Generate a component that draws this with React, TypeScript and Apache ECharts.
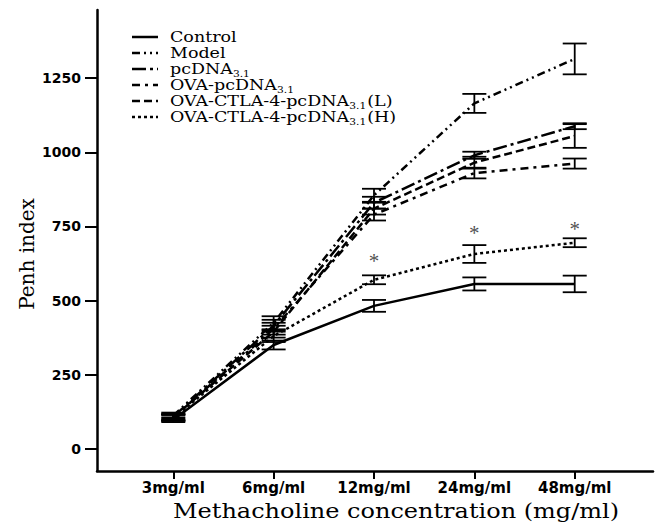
import React, { useEffect, useRef } from 'react';
import * as echarts from 'echarts';

const categories = ['3mg/ml', '6mg/ml', '12mg/ml', '24mg/ml', '48mg/ml'];
const yTicks = [0, 250, 500, 750, 1000, 1250];

const controlMean = [98, 350, 482, 556, 556];
const controlErr = [8, 15, 20, 22, 28];
const modelMean = [112, 425, 855, 1165, 1315];
const modelErr = [10, 22, 22, 32, 52];
const pcdnaMean = [108, 415, 830, 990, 1088];
const pcdnaErr = [10, 20, 20, 12, 10];
const ovaPcdnaMean = [105, 405, 790, 930, 962];
const ovaPcdnaErr = [10, 20, 20, 18, 17];
const ctlaLMean = [106, 395, 810, 965, 1055];
const ctlaLErr = [10, 20, 20, 20, 40];
const ctlaHMean = [104, 380, 570, 657, 695];
const ctlaHErr = [10, 20, 15, 30, 15];

const asteriskIdx = [2, 3, 4];
const asteriskVal = [643, 738, 752];

type Part = { t: string; sub?: boolean };
const groups = [
  { key: 'Control', parts: [{ t: 'Control' }] as Part[], mean: controlMean, err: controlErr, dash: [] as number[] },
  { key: 'Model', parts: [{ t: 'Model' }] as Part[], mean: modelMean, err: modelErr, dash: [8, 4, 2, 4, 2, 4] },
  { key: 'pcDNA3.1', parts: [{ t: 'pcDNA' }, { t: '3.1', sub: true }] as Part[], mean: pcdnaMean, err: pcdnaErr, dash: [14, 4, 3, 4] },
  { key: 'OVA-pcDNA3.1', parts: [{ t: 'OVA-pcDNA' }, { t: '3.1', sub: true }] as Part[], mean: ovaPcdnaMean, err: ovaPcdnaErr, dash: [8, 5, 3, 5] },
  { key: 'OVA-CTLA-4-pcDNA3.1(L)', parts: [{ t: 'OVA-CTLA-4-pcDNA' }, { t: '3.1', sub: true }, { t: '(L)' }] as Part[], mean: ctlaLMean, err: ctlaLErr, dash: [8, 4] },
  { key: 'OVA-CTLA-4-pcDNA3.1(H)', parts: [{ t: 'OVA-CTLA-4-pcDNA' }, { t: '3.1', sub: true }, { t: '(H)' }] as Part[], mean: ctlaHMean, err: ctlaHErr, dash: [3, 3] },
];

const SERIF = '"DejaVu Serif", "Liberation Serif", serif';
const SANS = '"DejaVu Sans", "Liberation Sans", sans-serif';

export default function App() {
  const ref = useRef<HTMLDivElement>(null);
  useEffect(() => {
    if (!ref.current) return;
    const chart = echarts.init(ref.current, null, { renderer: 'svg' });

    const canvas = document.createElement('canvas');
    const ctx = canvas.getContext('2d')!;
    const measure = (text: string, font: string) => {
      ctx.font = font;
      return ctx.measureText(text).width;
    };

    const series: any[] = [];
    groups.forEach((g) => {
      series.push({
        name: g.key,
        type: 'line',
        data: g.mean.map((v, i) => [i, v]),
        symbol: 'none',
        itemStyle: { color: '#000' },
        lineStyle: { color: '#000', width: 2.5, type: g.dash.length ? g.dash : 'solid' },
        z: 3,
      });
      series.push({
        name: g.key + ' err',
        type: 'custom',
        itemStyle: { color: '#000' },
        data: g.mean.map((v, i) => [i, v - g.err[i], v + g.err[i]]),
        encode: { x: 0, y: [1, 2] },
        renderItem: (params: any, api: any) => {
          const x = api.value(0);
          const lo = api.coord([x, api.value(1)]);
          const hi = api.coord([x, api.value(2)]);
          const hw = 12;
          const st = { stroke: '#000', lineWidth: 1.8 };
          return {
            type: 'group',
            children: [
              { type: 'line', shape: { x1: lo[0], y1: lo[1], x2: hi[0], y2: hi[1] }, style: st },
              { type: 'line', shape: { x1: lo[0] - hw, y1: lo[1], x2: lo[0] + hw, y2: lo[1] }, style: st },
              { type: 'line', shape: { x1: hi[0] - hw, y1: hi[1], x2: hi[0] + hw, y2: hi[1] }, style: st },
            ],
          };
        },
        z: 4,
      });
    });

    series.push({
      name: 'significance',
      type: 'scatter',
      symbol: 'circle',
      symbolSize: 1,
      itemStyle: { color: 'rgba(0,0,0,0)' },
      data: asteriskIdx.map((i, k) => [i, asteriskVal[k]]),
      label: {
        show: true,
        position: 'inside',
        formatter: '*',
        color: '#222',
        fontFamily: '"Liberation Serif", serif',
        fontSize: 21,
        offset: [0, 3],
      },
      z: 5,
    });

    const legendGraphics: any[] = [];
    const rowY = [37, 53, 69, 85, 101, 117];
    const SX = 1.25;
    const mainFont = '14px ' + SERIF;
    const subFont = '8.5px ' + SERIF;
    groups.forEach((g, i) => {
      legendGraphics.push({
        type: 'line',
        shape: { x1: 132, y1: rowY[i], x2: 158, y2: rowY[i] },
        style: { stroke: '#000', lineWidth: 2.5, lineDash: g.dash.length ? g.dash : null },
      });
      let cx = 170;
      g.parts.forEach((p) => {
        const font = p.sub ? subFont : mainFont;
        legendGraphics.push({
          type: 'text',
          x: cx,
          y: p.sub ? rowY[i] + 5 : rowY[i],
          scaleX: SX,
          style: { text: p.t, fill: '#000', font, verticalAlign: 'middle', align: 'left' },
        });
        cx += measure(p.t, font) * SX + (p.sub ? 1 : 0);
      });
    });

    chart.setOption({
      animation: false,
      backgroundColor: '#fff',
      grid: { left: 97, right: 5, top: 10, bottom: 59 },
      xAxis: {
        type: 'value',
        min: -0.76,
        max: 4.78,
        splitLine: { show: false },
        axisLine: { onZero: false, lineStyle: { color: '#000', width: 2.5 } },
        axisTick: { customValues: [0, 1, 2, 3, 4], length: 8, lineStyle: { color: '#000', width: 2 } },
        axisLabel: {
          customValues: [0, 1, 2, 3, 4],
          formatter: (v: number) => categories[Math.round(v)],
          color: '#000',
          fontFamily: SANS,
          fontWeight: 'bold',
          fontSize: 15,
          margin: 9,
        },
      },
      yAxis: {
        type: 'value',
        min: -75,
        max: 1480,
        splitLine: { show: false },
        axisLine: { show: true, onZero: false, lineStyle: { color: '#000', width: 2.5 } },
        axisTick: { show: true, customValues: yTicks, length: 12, lineStyle: { color: '#000', width: 2 } },
        axisLabel: {
          customValues: yTicks,
          formatter: (v: number) => String(v),
          color: '#000',
          fontFamily: SANS,
          fontWeight: 'bold',
          fontSize: 14,
          margin: 16,
        },
      },
      graphic: [
        ...legendGraphics,
        {
          type: 'text',
          x: 396,
          y: 511,
          scaleX: 1.2,
          style: {
            text: 'Methacholine concentration (mg/ml)',
            fill: '#000',
            font: '20px ' + SERIF,
            align: 'center',
            verticalAlign: 'middle',
          },
        },
        {
          type: 'text',
          x: 27,
          y: 254,
          rotation: Math.PI / 2,
          style: {
            text: 'Penh index',
            fill: '#000',
            font: '20px ' + SERIF,
            align: 'center',
            verticalAlign: 'middle',
          },
        },
      ],
      series,
    });
    return () => chart.dispose();
  }, []);
  return (
    <div
      ref={ref}
      style={{ position: 'fixed', left: 0, top: 0, width: 658, height: 530, background: '#fff' }}
    />
  );
}
